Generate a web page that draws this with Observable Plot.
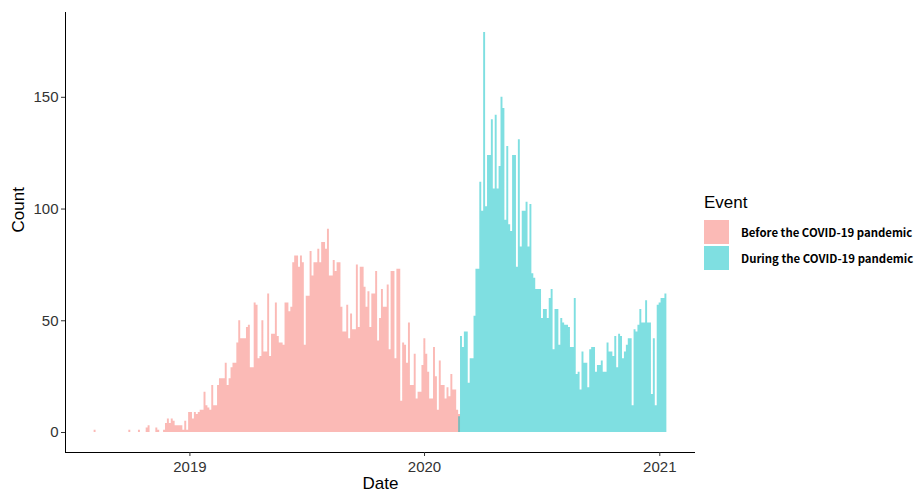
<!DOCTYPE html>
<html><head><meta charset="utf-8">
<script src="https://cdn.jsdelivr.net/npm/d3@7"></script>
<script src="https://cdn.jsdelivr.net/npm/@observablehq/plot@0.6"></script>
<style>
body{margin:0;background:#fff;}
#wrap{position:relative;width:914px;height:495px;font-family:"Liberation Sans",Arial,sans-serif;}
#ltitle{position:absolute;left:704px;top:193px;font-size:17px;line-height:20px;color:#000;}
.row{position:absolute;left:704px;display:flex;align-items:center;height:24px;}
.sw{width:25px;height:24px;margin-right:12px;}
.lab{font-family:"Noto Sans CJK JP","Liberation Sans",sans-serif;font-weight:700;font-size:11.4px;color:#000;white-space:nowrap;}
</style></head>
<body><div id="wrap"></div>
<script>
const events = ["Before the COVID-19 pandemic", "During the COVID-19 pandemic"];
const eventColors = ["#F8766D", "#00BFC4"];
const binDays = 3;
const beforeStart = "2018-08-05";
const duringStart = "2020-02-23";
const beforeCounts = [
  1,0,0,0,0,0,0,0,0,0,0,0,0,0,0,0,0,0,1,0,
  0,0,0,1,0,0,0,2,3,0,0,0,2,1,0,0,1,4,6,4,
  6,5,3,3,3,3,1,5,1,9,9,6,9,8,9,10,10,18,12,11,
  10,21,12,12,21,24,24,24,31,21,24,29,31,31,40,50,42,42,42,47,
  48,29,29,58,57,33,34,50,36,36,62,34,44,44,58,43,40,40,39,58,
  58,54,56,76,79,79,74,79,76,39,61,61,81,70,76,76,82,76,85,85,
  82,91,70,70,77,72,76,76,56,45,45,57,42,53,46,46,75,47,74,74,
  65,56,63,47,62,62,72,41,51,64,56,56,66,37,72,72,33,73,73,14,
  40,39,31,49,21,21,35,15,18,18,30,42,35,27,15,15,38,25,10,32,
  21,21,15,20,16,26,19,19,10,8
];
const duringCounts = [
  7,43,38,45,45,22,33,33,52,73,73,112,99,179,101,124,124,140,109,142,
  109,119,150,145,95,128,93,90,124,124,74,131,83,99,99,103,83,102,71,69,
  64,64,64,51,55,55,51,60,64,37,55,55,39,51,49,48,48,47,38,38,
  60,26,27,19,36,31,31,20,37,38,38,27,30,30,32,27,27,40,36,36,
  34,43,29,44,43,33,36,39,42,42,12,46,45,48,55,49,49,59,49,49,
  17,42,12,57,58,60,60,62
];
const xTickYears = [2019, 2020, 2021];
const yTicks = [0, 50, 100, 150];

const DAY = 864e5;
function series(event, start, counts) {
  const t0 = new Date(start + "T00:00:00Z").getTime();
  const pts = counts.map((c, i) => ({event, date: new Date(t0 + i * binDays * DAY), count: c}));
  pts.push({event, date: new Date(t0 + counts.length * binDays * DAY), count: counts[counts.length - 1]});
  return pts;
}
const beforeData = series(events[0], beforeStart, beforeCounts);
const duringData = series(events[1], duringStart, duringCounts);

const first = +beforeData[0].date, last = +duringData[duringData.length - 1].date;
const span = last - first;
const xDomain = [new Date(first - 0.05 * span), new Date(last + 0.05 * span)];
const maxCount = d3.max([...beforeCounts, ...duringCounts]);
const yDomain = [-0.05 * maxCount, 1.05 * maxCount];

const plot = Plot.plot({
  width: 914, height: 495,
  marginLeft: 65, marginRight: 219, marginTop: 12, marginBottom: 43,
  style: {fontFamily: "Liberation Sans, Arial, sans-serif", background: "#fff", overflow: "visible"},
  x: {type: "utc", domain: xDomain},
  y: {domain: yDomain},
  color: {domain: events, range: eventColors},
  marks: [
    Plot.areaY(beforeData, {x: "date", y1: 0, y2: "count", fill: "event", fillOpacity: 0.5, curve: "step-after"}),
    Plot.areaY(duringData, {x: "date", y1: 0, y2: "count", fill: "event", fillOpacity: 0.5, curve: "step-after"}),
    Plot.ruleX([xDomain[0]], {stroke: "black"}),
    Plot.ruleY([yDomain[0]], {stroke: "black"}),
    Plot.axisX({ticks: xTickYears.map(y => new Date(Date.UTC(y, 0, 1))), tickFormat: d => String(d.getUTCFullYear()),
      tickSize: 4, tickPadding: 5, fontSize: 15, label: null, color: "#333"}),
    Plot.axisY({ticks: yTicks, tickSize: 4, tickPadding: 3, fontSize: 15, label: null, color: "#333"}),
    Plot.text(["Count"], {frameAnchor: "left", dx: -47, rotate: -90, fontSize: 17, fill: "#000"}),
    Plot.text(["Date"], {frameAnchor: "bottom", dy: 36, fontSize: 17, fill: "#000"})
  ]
});
const wrap = document.getElementById("wrap");
wrap.appendChild(plot);

const lt = document.createElement("div");
lt.id = "ltitle"; lt.textContent = "Event";
wrap.appendChild(lt);
events.forEach((ev, i) => {
  const row = document.createElement("div");
  row.className = "row";
  row.style.top = (220 + i * 26) + "px";
  const sw = document.createElement("div");
  sw.className = "sw";
  sw.style.background = eventColors[i];
  sw.style.opacity = 0.5;
  const lab = document.createElement("span");
  lab.className = "lab";
  lab.textContent = ev;
  row.appendChild(sw); row.appendChild(lab);
  wrap.appendChild(row);
});
</script>
</body></html>
